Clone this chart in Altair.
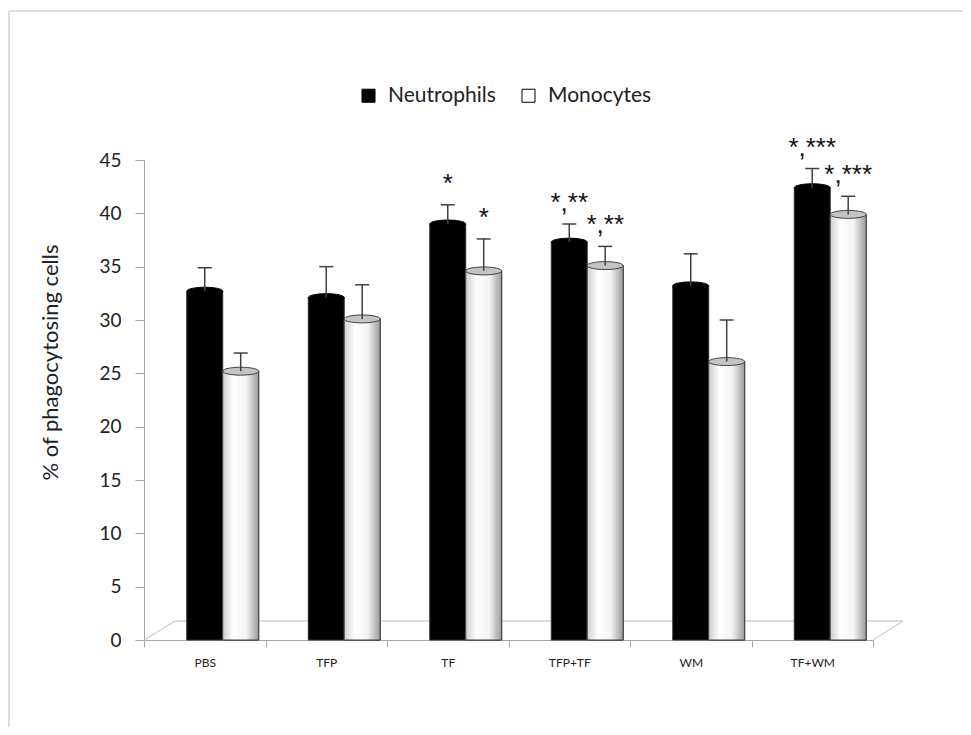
import altair as alt
import pandas as pd

groups = ["PBS", "TFP", "TF", "TFP+TF", "WM", "TF+WM"]
series_names = ["Neutrophils", "Monocytes"]
neut = [32.7, 32.1, 39.0, 37.3, 33.2, 42.4]
neut_err = [2.2, 2.9, 1.8, 1.7, 3.0, 1.8]
mono = [25.2, 30.1, 34.6, 35.1, 26.1, 39.9]
mono_err = [1.7, 3.2, 3.0, 1.8, 3.9, 1.7]
neut_sig = ["", "", "*", "*,**", "", "*,***"]
mono_sig = ["", "", "*", "*,**", "", "*,***"]
y_ticks = [0, 5, 10, 15, 20, 25, 30, 35, 40, 45]

rows = []
for i, g in enumerate(groups):
    rows.append(dict(group=g, series="Neutrophils", value=neut[i],
                     upper=neut[i] + neut_err[i], sig=neut_sig[i]))
    rows.append(dict(group=g, series="Monocytes", value=mono[i],
                     upper=mono[i] + mono_err[i], sig=mono_sig[i]))
df = pd.DataFrame(rows)

FONT = "Lato"
AXC = "#a6a6a6"

x = alt.X("group:N", sort=groups,
          scale=alt.Scale(paddingInner=0, paddingOuter=0),
          axis=alt.Axis(title=None, labelAngle=0, labelFont=FONT, labelFontSize=12,
                        labelColor="#222222", domainColor=AXC, tickColor=AXC,
                        tickSize=7, tickBand="extent", labelPadding=10))
xo = alt.XOffset("series:N",
                 scale=alt.Scale(domain=["pad", "Neutrophils", "Monocytes"],
                                 paddingInner=0, paddingOuter=0.19))
y = alt.Y("value:Q", scale=alt.Scale(domain=[0, 45]),
          axis=alt.Axis(values=y_ticks, grid=False, title="% of phagocytosing cells",
                        labelFont=FONT, labelFontSize=19, labelColor="#222222",
                        titleFont=FONT, titleFontSize=22, titleFontWeight="normal",
                        titleColor="#222222", titleX=-82, titleY=202,
                        titleAlign="center", titleBaseline="bottom",
                        domainColor=AXC, tickColor=AXC, tickSize=9, labelPadding=14))

base = alt.Chart(df)

bars = base.mark_bar(stroke="#303030", strokeWidth=1).encode(
    x=x, xOffset=xo, y=y,
    color=alt.Color("series:N",
                    scale=alt.Scale(domain=series_names, range=["#000000", "#ffffff"]),
                    legend=alt.Legend(title=None, orient="none", legendX=214, legendY=-75,
                                      direction="horizontal", symbolType="square",
                                      symbolSize=170, symbolStrokeColor="#000000",
                                      symbolStrokeWidth=1, symbolOpacity=1,
                                      labelFont=FONT, labelFontSize=21,
                                      labelColor="#222222", labelOffset=9,
                                      columnPadding=22)),
)

grad = {"gradient": "linear", "x1": 0, "x2": 1, "y1": 0, "y2": 0,
        "stops": [{"offset": 0, "color": "#cfcfcf"},
                  {"offset": 0.3, "color": "#ffffff"},
                  {"offset": 0.65, "color": "#f4f4f4"},
                  {"offset": 1, "color": "#9a9a9a"}]}
mono_bars = base.transform_filter(alt.datum.series == "Monocytes").mark_bar(
    fill=grad, stroke="#404040", strokeWidth=1
).encode(x=x, xOffset=xo, y=y)

ELLIPSE = "M -1 0 A 1 0.22 0 1 0 1 0 A 1 0.22 0 1 0 -1 0 Z"
n_tops = base.transform_filter(alt.datum.series == "Neutrophils").mark_point(
    shape=ELLIPSE, size=1296, filled=True, fill="#000000", stroke="#000000",
    strokeWidth=1, opacity=1
).encode(x=x, xOffset=xo, y=y)
m_tops = base.transform_filter(alt.datum.series == "Monocytes").mark_point(
    shape=ELLIPSE, size=1296, filled=True, fill="#c4c4c4", stroke="#404040",
    strokeWidth=1, opacity=1
).encode(x=x, xOffset=xo, y=y)

err = base.mark_rule(color="#404040", strokeWidth=1.5).encode(
    x=x, xOffset=xo, y=y, y2="upper:Q")
caps = base.mark_point(shape="M -1 0 L 1 0", size=196, filled=False,
                       stroke="#404040", strokeWidth=1.5, opacity=1).encode(
    x=x, xOffset=xo, y=alt.Y("upper:Q"))

sig = base.transform_filter(alt.datum.sig != "").mark_text(
    font="Liberation Sans", fontSize=26, baseline="bottom", dy=-8, color="#111111"
).encode(x=x, xOffset=xo, y=alt.Y("upper:Q"), text="sig:N")

deco = alt.Chart(pd.DataFrame({"k": [0]}))
floor_back = deco.mark_rule(color="#bdbdbd", strokeWidth=1).encode(
    x=alt.value(31), x2=alt.value(759), y=alt.value(461), y2=alt.value(461))
floor_left = deco.mark_rule(color="#bdbdbd", strokeWidth=1).encode(
    x=alt.value(0), x2=alt.value(31), y=alt.value(480), y2=alt.value(461))
floor_right = deco.mark_rule(color="#bdbdbd", strokeWidth=1).encode(
    x=alt.value(729), x2=alt.value(759), y=alt.value(480), y2=alt.value(461))
frame_top = deco.mark_rule(color="#d4d4d4", strokeWidth=1.5).encode(
    x=alt.value(-135), x2=alt.value(900), y=alt.value(-149), y2=alt.value(-149))
frame_left = deco.mark_rule(color="#d4d4d4", strokeWidth=1.5).encode(
    x=alt.value(-135), x2=alt.value(-135), y=alt.value(-149), y2=alt.value(700))

chart = alt.layer(
    frame_top, frame_left, floor_back, floor_left, floor_right,
    bars, mono_bars, n_tops, m_tops, err, caps, sig
).properties(
    width=729, height=480,
    autosize=alt.AutoSizeParams(type="none"),
    padding={"left": 136, "top": 152, "right": 90, "bottom": 87},
    background="#ffffff",
).configure_view(strokeWidth=0)

chart.save("out.html", embed_options={"renderer": "svg", "actions": False})
